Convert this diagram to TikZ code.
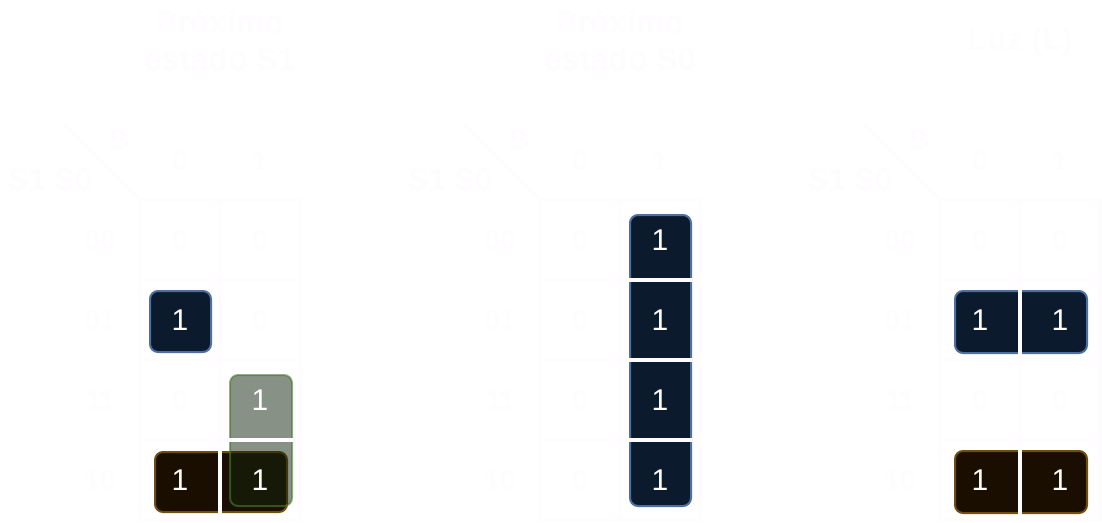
\documentclass[tikz,border=0pt]{standalone}
\usepackage{fontspec}
\setmainfont{Liberation Sans}
\definecolor{txt}{RGB}{254,252,254}
\definecolor{navyf}{RGB}{12,26,46}
\definecolor{navyd}{RGB}{78,112,160}
\definecolor{brownf}{RGB}{26,14,0}
\definecolor{brownd}{RGB}{112,78,14}
\definecolor{greenf}{RGB}{18,36,12}
\definecolor{greend}{RGB}{70,125,45}
\tikzset{
  titletext/.style={text=txt,font=\fontsize{32}{37}\selectfont\bfseries,align=center,inner sep=0pt},
  labeltext/.style={text=txt,font=\fontsize{28}{32}\selectfont\bfseries,inner sep=0pt},
  bigtext/.style={text=txt,font=\fontsize{31}{34}\selectfont\bfseries,inner sep=0pt},
  onetext/.style={text=white,font=\fontsize{30}{34}\selectfont,inner sep=0pt},
  gridline/.style={draw=txt,line width=3.5pt},
  diagline/.style={draw=txt,line width=2pt},
  navybox/.style={draw=navyd,fill=navyf,line width=2pt,rounded corners=8pt,inner sep=0pt},
  brownbox/.style={draw=brownd,fill=brownf,line width=2pt,rounded corners=8pt,inner sep=0pt},
  greenbox/.style={draw=greend,draw opacity=0.6,fill=greenf,fill opacity=0.5,line width=2pt,rounded corners=8pt,inner sep=0pt}
}
\begin{document}
\begin{tikzpicture}[x=1pt,y=-1pt]
\useasboundingbox (0,0) rectangle (1102,522);
% titles
\node[titletext] (t1) at (220,40) {Próximo\\estado S1};
\node[titletext] (t2) at (620,40) {Próximo\\estado S0};
\node[titletext] (t3) at (1020,42) {Luz (L)};
% headers and row labels
\foreach \ox/\k in {0/a,400/b,800/c}{
  \coordinate (d1\k) at (62+\ox,122);
  \coordinate (d2\k) at (140+\ox,200);
  \draw[diagline] (d1\k) -- (d2\k);
  \node[labeltext] (B\k) at (119+\ox,140) {B};
  \node[bigtext] (S\k) at (50+\ox,180) {S1 S0};
  \node[labeltext] (c0\k) at (180+\ox,161) {0};
  \node[labeltext] (c1\k) at (260+\ox,161) {1};
  \node[labeltext] (r0\k) at (100+\ox,240) {00};
  \node[labeltext] (r1\k) at (100+\ox,320) {01};
  \node[labeltext] (r2\k) at (100+\ox,400) {11};
  \node[labeltext] (r3\k) at (100+\ox,480) {10};
}
% highlight boxes
\node[navybox,minimum width=61pt,minimum height=61pt] (g1) at (180.5,321.5) {};
\node[brownbox,minimum width=132pt,minimum height=60pt] (g2) at (221,482) {};
\node[greenbox,minimum width=62pt,minimum height=131pt] (g3) at (261,440.5) {};
\node[navybox,minimum width=61pt,minimum height=291pt] (g4) at (660.5,360.5) {};
\node[navybox,minimum width=132pt,minimum height=62pt] (g5) at (1021,322) {};
\node[brownbox,minimum width=132pt,minimum height=62pt] (g6) at (1021,482) {};
% cell values map 1
\node[labeltext] (a00) at (180,240) {0};
\node[labeltext] (a01) at (260,240) {0};
\node[onetext] (a10) at (180,320) {1};
\node[labeltext] (a11) at (260,320) {0};
\node[labeltext] (a20) at (180,400) {0};
\node[onetext] (a21) at (260,400) {1};
\node[onetext] (a30) at (180,480) {1};
\node[onetext] (a31) at (260,480) {1};
% map 2
\node[labeltext] (b00) at (580,240) {0};
\node[onetext] (b01) at (660,240) {1};
\node[labeltext] (b10) at (580,320) {0};
\node[onetext] (b11) at (660,320) {1};
\node[labeltext] (b20) at (580,400) {0};
\node[onetext] (b21) at (660,400) {1};
\node[labeltext] (b30) at (580,480) {0};
\node[onetext] (b31) at (660,480) {1};
% map 3
\node[labeltext] (c00) at (980,240) {0};
\node[labeltext] (c01) at (1060,240) {0};
\node[onetext] (c10) at (980,320) {1};
\node[onetext] (c11) at (1060,320) {1};
\node[labeltext] (c20) at (980,400) {0};
\node[labeltext] (c21) at (1060,400) {0};
\node[onetext] (c30) at (980,480) {1};
\node[onetext] (c31) at (1060,480) {1};
% grids on top
\foreach \ox in {0,400,800}{
  \draw[gridline] (140+\ox,200) rectangle (300+\ox,520);
  \draw[gridline] (220+\ox,200) -- (220+\ox,520);
  \draw[gridline] (140+\ox,280) -- (300+\ox,280);
  \draw[gridline] (140+\ox,360) -- (300+\ox,360);
  \draw[gridline] (140+\ox,440) -- (300+\ox,440);
}
\end{tikzpicture}
\end{document}
